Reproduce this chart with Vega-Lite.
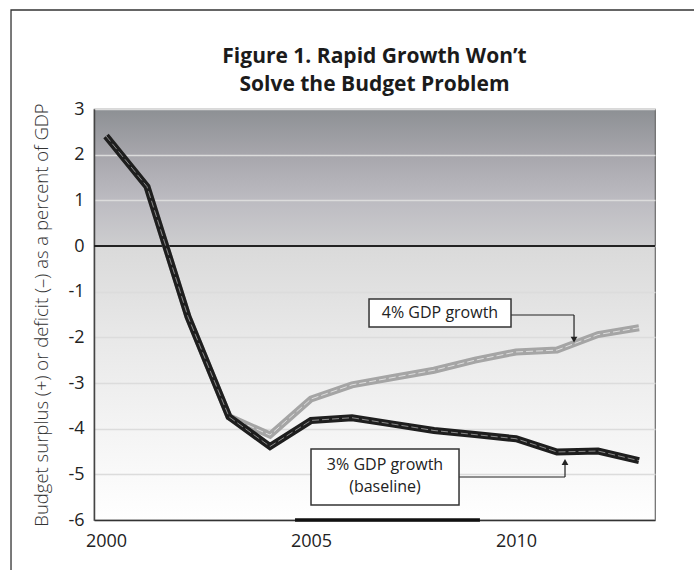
{
  "$schema": "https://vega.github.io/schema/vega-lite/v6.json",
  "width": 561,
  "height": 411,
  "autosize": {"type": "none"},
  "padding": {"left": 94, "top": 109, "right": 39, "bottom": 50},
  "background": "#ffffff",
  "view": {
    "fill": {
      "gradient": "linear", "x1": 0, "y1": 0, "x2": 0, "y2": 1,
      "stops": [
        {"offset": 0, "color": "#8d9094"},
        {"offset": 0.11, "color": "#a7a6ac"},
        {"offset": 0.22, "color": "#bcbbc1"},
        {"offset": 0.332, "color": "#cdcdcf"},
        {"offset": 0.335, "color": "#dadada"},
        {"offset": 0.55, "color": "#e8e8e8"},
        {"offset": 0.78, "color": "#f4f4f4"},
        {"offset": 1, "color": "#ffffff"}
      ]
    },
    "stroke": "#6a6a6a",
    "strokeWidth": 1.2
  },
  "title": {
    "text": ["Figure 1. Rapid Growth Won’t", "Solve the Budget Problem"],
    "font": "Open Sans",
    "fontSize": 21,
    "fontWeight": "bold",
    "color": "#1b1b1b",
    "anchor": "middle",
    "lineHeight": 28,
    "offset": -86
  },
  "config": {"font": "Open Sans"},
  "datasets": {
    "budget": [
      {"year": 2000, "series": "3% GDP growth (baseline)", "value": 2.41},
      {"year": 2001, "series": "3% GDP growth (baseline)", "value": 1.30},
      {"year": 2002, "series": "3% GDP growth (baseline)", "value": -1.55},
      {"year": 2003, "series": "3% GDP growth (baseline)", "value": -3.74},
      {"year": 2004, "series": "3% GDP growth (baseline)", "value": -4.39},
      {"year": 2005, "series": "3% GDP growth (baseline)", "value": -3.82},
      {"year": 2006, "series": "3% GDP growth (baseline)", "value": -3.76},
      {"year": 2007, "series": "3% GDP growth (baseline)", "value": -3.90},
      {"year": 2008, "series": "3% GDP growth (baseline)", "value": -4.04},
      {"year": 2009, "series": "3% GDP growth (baseline)", "value": -4.13},
      {"year": 2010, "series": "3% GDP growth (baseline)", "value": -4.22},
      {"year": 2011, "series": "3% GDP growth (baseline)", "value": -4.51},
      {"year": 2012, "series": "3% GDP growth (baseline)", "value": -4.49},
      {"year": 2013, "series": "3% GDP growth (baseline)", "value": -4.70},
      {"year": 2000, "series": "4% GDP growth", "value": 2.41},
      {"year": 2001, "series": "4% GDP growth", "value": 1.30},
      {"year": 2002, "series": "4% GDP growth", "value": -1.55},
      {"year": 2003, "series": "4% GDP growth", "value": -3.74},
      {"year": 2004, "series": "4% GDP growth", "value": -4.14},
      {"year": 2005, "series": "4% GDP growth", "value": -3.35},
      {"year": 2006, "series": "4% GDP growth", "value": -3.04},
      {"year": 2007, "series": "4% GDP growth", "value": -2.88},
      {"year": 2008, "series": "4% GDP growth", "value": -2.72},
      {"year": 2009, "series": "4% GDP growth", "value": -2.50},
      {"year": 2010, "series": "4% GDP growth", "value": -2.32},
      {"year": 2011, "series": "4% GDP growth", "value": -2.28},
      {"year": 2012, "series": "4% GDP growth", "value": -1.94},
      {"year": 2013, "series": "4% GDP growth", "value": -1.79}
    ]
  },
  "layer": [
    {
      "data": {"values": [{}]},
      "mark": {"type": "rect", "filled": false, "stroke": "#333333", "strokeWidth": 1.3, "clip": false},
      "encoding": {
        "x": {"datum": 1997.683, "type": "quantitative", "scale": {"domain": [1999.707, 2013.39], "nice": false, "zero": false}},
        "x2": {"datum": 2015.5},
        "y": {"datum": 5.168, "type": "quantitative", "scale": {"domain": [-6, 3], "nice": false, "zero": false}},
        "y2": {"datum": -7.6}
      }
    },
    {
      "data": {"values": [{}]},
      "mark": {"type": "rule", "color": "#222222", "strokeWidth": 2},
      "encoding": {
        "y": {"datum": 0, "type": "quantitative", "scale": {"domain": [-6, 3], "nice": false, "zero": false}}
      }
    },
    {
      "data": {"values": [{}]},
      "mark": {"type": "rule", "color": "#111111", "strokeWidth": 3.5},
      "encoding": {
        "x": {"datum": 2004.61, "type": "quantitative", "scale": {"domain": [1999.707, 2013.39], "nice": false, "zero": false}},
        "x2": {"datum": 2009.12},
        "y": {"datum": -6, "type": "quantitative", "scale": {"domain": [-6, 3], "nice": false, "zero": false}}
      }
    },
    {
      "data": {"name": "budget"},
      "transform": [{"filter": "datum.series === '4% GDP growth'"}],
      "mark": {"type": "line", "color": "#a5a5a5", "strokeWidth": 7, "strokeJoin": "miter"},
      "encoding": {
        "x": {
          "field": "year", "type": "quantitative",
          "scale": {"domain": [1999.707, 2013.39], "nice": false, "zero": false},
          "axis": {
            "values": [2000, 2005, 2010], "format": "d", "title": null, "grid": false,
            "ticks": false, "tickSize": 0, "labelPadding": 12, "labelFontSize": 18,
            "labelColor": "#222222", "domainColor": "#333333", "domainWidth": 1.5
          }
        },
        "y": {
          "field": "value", "type": "quantitative",
          "scale": {"domain": [-6, 3], "nice": false, "zero": false},
          "axis": {
            "values": [-6, -5, -4, -3, -2, -1, 0, 1, 2, 3],
            "labelExpr": "'' + datum.value",
            "title": "Budget surplus (+) or deficit (–) as a percent of GDP",
            "titleFontSize": 18.5, "titleFontWeight": 300, "titleColor": "#333333",
            "titleX": -53, "titleY": 205.5, "titleAngle": -90, "titleAlign": "center", "titleBaseline": "middle",
            "grid": true, "gridColor": "#dcdcdc", "gridWidth": 1.5,
            "ticks": false, "tickSize": 0, "labelPadding": 10, "labelFontSize": 18,
            "labelColor": "#222222", "domainColor": "#444444", "domainWidth": 1.5
          }
        }
      }
    },
    {
      "data": {"name": "budget"},
      "transform": [{"filter": "datum.series === '4% GDP growth'"}],
      "mark": {"type": "line", "color": "#dedede", "strokeWidth": 1, "strokeDash": [7, 3]},
      "encoding": {
        "x": {"field": "year", "type": "quantitative", "scale": {"domain": [1999.707, 2013.39], "nice": false, "zero": false}},
        "y": {"field": "value", "type": "quantitative", "scale": {"domain": [-6, 3], "nice": false, "zero": false}}
      }
    },
    {
      "data": {"name": "budget"},
      "transform": [{"filter": "datum.series === '3% GDP growth (baseline)'"}],
      "mark": {"type": "line", "color": "#1e1e1e", "strokeWidth": 7, "strokeJoin": "miter"},
      "encoding": {
        "x": {"field": "year", "type": "quantitative", "scale": {"domain": [1999.707, 2013.39], "nice": false, "zero": false}},
        "y": {"field": "value", "type": "quantitative", "scale": {"domain": [-6, 3], "nice": false, "zero": false}}
      }
    },
    {
      "data": {"name": "budget"},
      "transform": [{"filter": "datum.series === '3% GDP growth (baseline)'"}],
      "mark": {"type": "line", "color": "#8a8a8a", "strokeWidth": 1, "strokeDash": [7, 3]},
      "encoding": {
        "x": {"field": "year", "type": "quantitative", "scale": {"domain": [1999.707, 2013.39], "nice": false, "zero": false}},
        "y": {"field": "value", "type": "quantitative", "scale": {"domain": [-6, 3], "nice": false, "zero": false}}
      }
    },
    {
      "data": {"values": [{}]},
      "mark": {"type": "rule", "color": "#222222", "strokeWidth": 1.2},
      "encoding": {
        "x": {"datum": 2009.878, "type": "quantitative", "scale": {"domain": [1999.707, 2013.39], "nice": false, "zero": false}},
        "x2": {"datum": 2011.415},
        "y": {"datum": -1.511, "type": "quantitative", "scale": {"domain": [-6, 3], "nice": false, "zero": false}}
      }
    },
    {
      "data": {"values": [{}]},
      "mark": {"type": "rule", "color": "#222222", "strokeWidth": 1.2},
      "encoding": {
        "x": {"datum": 2011.415, "type": "quantitative", "scale": {"domain": [1999.707, 2013.39], "nice": false, "zero": false}},
        "y": {"datum": -1.511, "type": "quantitative", "scale": {"domain": [-6, 3], "nice": false, "zero": false}},
        "y2": {"datum": -2.02}
      }
    },
    {
      "data": {"values": [{}]},
      "mark": {"type": "point", "shape": "triangle-down", "filled": true, "color": "#222222", "size": 45, "opacity": 1},
      "encoding": {
        "x": {"datum": 2011.415, "type": "quantitative", "scale": {"domain": [1999.707, 2013.39], "nice": false, "zero": false}},
        "y": {"datum": -2.05, "type": "quantitative", "scale": {"domain": [-6, 3], "nice": false, "zero": false}}
      }
    },
    {
      "data": {"values": [{}]},
      "mark": {"type": "rule", "color": "#222222", "strokeWidth": 1.2},
      "encoding": {
        "x": {"datum": 2008.61, "type": "quantitative", "scale": {"domain": [1999.707, 2013.39], "nice": false, "zero": false}},
        "x2": {"datum": 2011.195},
        "y": {"datum": -5.058, "type": "quantitative", "scale": {"domain": [-6, 3], "nice": false, "zero": false}}
      }
    },
    {
      "data": {"values": [{}]},
      "mark": {"type": "rule", "color": "#222222", "strokeWidth": 1.2},
      "encoding": {
        "x": {"datum": 2011.195, "type": "quantitative", "scale": {"domain": [1999.707, 2013.39], "nice": false, "zero": false}},
        "y": {"datum": -5.058, "type": "quantitative", "scale": {"domain": [-6, 3], "nice": false, "zero": false}},
        "y2": {"datum": -4.76}
      }
    },
    {
      "data": {"values": [{}]},
      "mark": {"type": "point", "shape": "triangle-up", "filled": true, "color": "#222222", "size": 45, "opacity": 1},
      "encoding": {
        "x": {"datum": 2011.195, "type": "quantitative", "scale": {"domain": [1999.707, 2013.39], "nice": false, "zero": false}},
        "y": {"datum": -4.73, "type": "quantitative", "scale": {"domain": [-6, 3], "nice": false, "zero": false}}
      }
    },
    {
      "data": {"values": [{}]},
      "mark": {"type": "rect", "color": "#000000", "opacity": 0.12, "xOffset": 4, "yOffset": 4},
      "encoding": {
        "x": {"datum": 2006.415, "type": "quantitative", "scale": {"domain": [1999.707, 2013.39], "nice": false, "zero": false}},
        "x2": {"datum": 2009.878},
        "y": {"datum": -1.16, "type": "quantitative", "scale": {"domain": [-6, 3], "nice": false, "zero": false}},
        "y2": {"datum": -1.773}
      }
    },
    {
      "data": {"values": [{}]},
      "mark": {"type": "rect", "fill": "#ffffff", "stroke": "#333333", "strokeWidth": 1.5},
      "encoding": {
        "x": {"datum": 2006.415, "type": "quantitative", "scale": {"domain": [1999.707, 2013.39], "nice": false, "zero": false}},
        "x2": {"datum": 2009.878},
        "y": {"datum": -1.16, "type": "quantitative", "scale": {"domain": [-6, 3], "nice": false, "zero": false}},
        "y2": {"datum": -1.773}
      }
    },
    {
      "data": {"values": [{}]},
      "mark": {"type": "text", "text": "4% GDP growth", "fontSize": 16, "color": "#222222", "align": "center", "baseline": "middle"},
      "encoding": {
        "x": {"datum": 2008.146, "type": "quantitative", "scale": {"domain": [1999.707, 2013.39], "nice": false, "zero": false}},
        "y": {"datum": -1.467, "type": "quantitative", "scale": {"domain": [-6, 3], "nice": false, "zero": false}}
      }
    },
    {
      "data": {"values": [{}]},
      "mark": {"type": "rect", "color": "#000000", "opacity": 0.12, "xOffset": 4, "yOffset": 4},
      "encoding": {
        "x": {"datum": 2005.0, "type": "quantitative", "scale": {"domain": [1999.707, 2013.39], "nice": false, "zero": false}},
        "x2": {"datum": 2008.61},
        "y": {"datum": -4.445, "type": "quantitative", "scale": {"domain": [-6, 3], "nice": false, "zero": false}},
        "y2": {"datum": -5.671}
      }
    },
    {
      "data": {"values": [{}]},
      "mark": {"type": "rect", "fill": "#ffffff", "stroke": "#333333", "strokeWidth": 1.5},
      "encoding": {
        "x": {"datum": 2005.0, "type": "quantitative", "scale": {"domain": [1999.707, 2013.39], "nice": false, "zero": false}},
        "x2": {"datum": 2008.61},
        "y": {"datum": -4.445, "type": "quantitative", "scale": {"domain": [-6, 3], "nice": false, "zero": false}},
        "y2": {"datum": -5.671}
      }
    },
    {
      "data": {"values": [{}]},
      "mark": {"type": "text", "text": "3% GDP  growth", "fontSize": 16, "color": "#222222", "align": "center", "baseline": "middle"},
      "encoding": {
        "x": {"datum": 2006.805, "type": "quantitative", "scale": {"domain": [1999.707, 2013.39], "nice": false, "zero": false}},
        "y": {"datum": -4.795, "type": "quantitative", "scale": {"domain": [-6, 3], "nice": false, "zero": false}}
      }
    },
    {
      "data": {"values": [{}]},
      "mark": {"type": "text", "text": "(baseline)", "fontSize": 16, "color": "#222222", "align": "center", "baseline": "middle"},
      "encoding": {
        "x": {"datum": 2006.805, "type": "quantitative", "scale": {"domain": [1999.707, 2013.39], "nice": false, "zero": false}},
        "y": {"datum": -5.277, "type": "quantitative", "scale": {"domain": [-6, 3], "nice": false, "zero": false}}
      }
    }
  ]
}
